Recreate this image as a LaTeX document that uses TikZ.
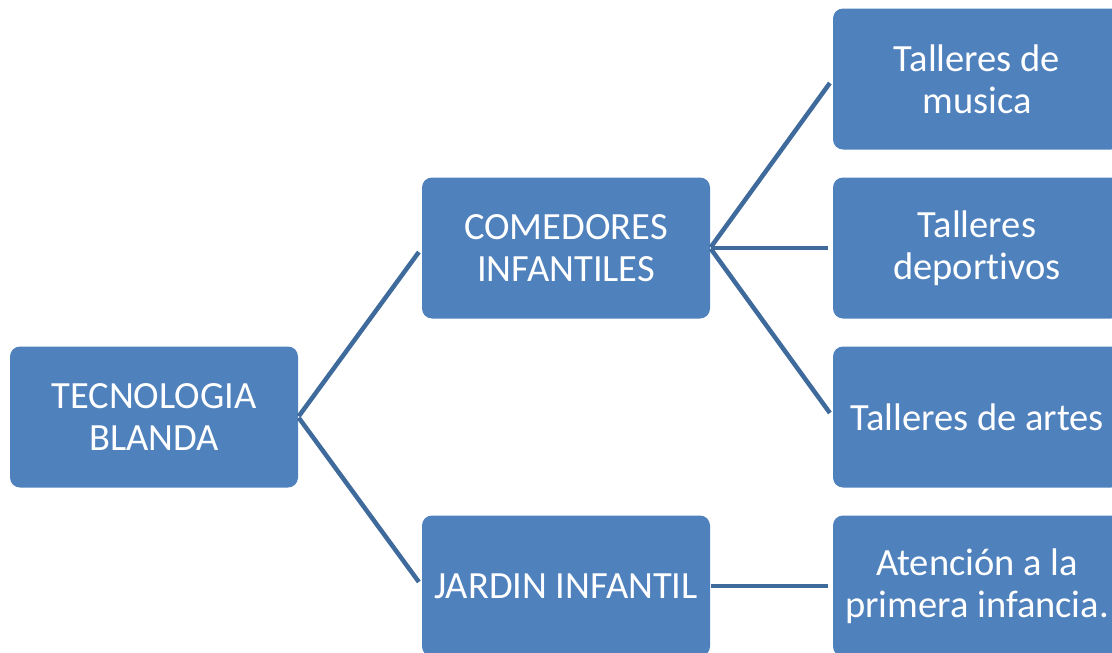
\documentclass[tikz,border=0pt]{standalone}
\usepackage{fontspec}
\setmainfont{Carlito}[Ligatures=NoCommon]
\usepackage{tikz}
\usetikzlibrary{arrows.meta}

\definecolor{boxblue}{HTML}{4F81BD}
\definecolor{lineblue}{HTML}{3F6A9C}

\tikzset{
	itembox/.style={fill=boxblue, rounded corners=10pt, minimum width=288pt,
		minimum height=141pt, inner sep=0pt, align=center, text=white,
		font=\fontsize{38.5}{42}\selectfont},
	link/.style={draw=lineblue, line width=4.5pt, shorten <=1pt, shorten >=5pt}
}

\begin{document}
\begin{tikzpicture}[x=1pt, y=-1pt]
		\useasboundingbox (0,0) rectangle (1112,653);
		\clip (0,0) rectangle (1112,653);

		% root
		\node[itembox] (tb) at (154,417) {TECNOLOGIA\\BLANDA};

		% middle level
		\node[itembox] (ci) at (566,248) {COMEDORES\\INFANTILES};
		\node[itembox] (ji) at (566,586) {JARDIN INFANTIL};

		% leaves
		\node[itembox] (tm) at (977,79) {Talleres de\\musica};
		\node[itembox] (td) at (977,248) {Talleres\\deportivos};
		\node[itembox] (ta) at (977,417) {Talleres de artes};
		\node[itembox] (ap) at (977,586) {Atención a la\\primera infancia.};

		% connectors
		\foreach \a/\b in {tb/ci, tb/ji, ci/tm, ci/td, ci/ta, ji/ap}
		{
		\draw[link] (\a.east) -- (\b.west);
		}
\end{tikzpicture}
\end{document}
